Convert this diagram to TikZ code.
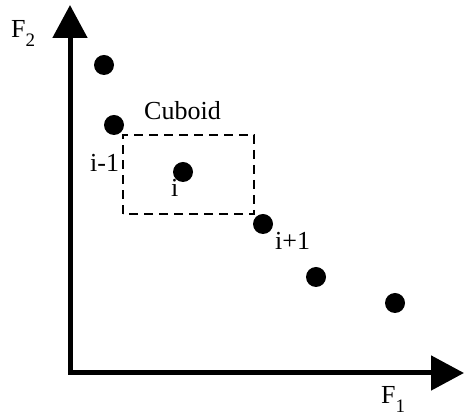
\documentclass[tikz,border=0pt]{standalone}
\usepackage{fontspec}
\setmainfont{Liberation Serif}
\usetikzlibrary{arrows.meta}
\newcommand{\axsub}[1]{\raisebox{-9pt}{\fontsize{19}{19}\selectfont #1}}
\tikzset{
  dot/.style={circle, fill=black, inner sep=0pt, minimum size=20pt},
  lbl/.style={anchor=base west, inner sep=0pt, font=\fontsize{26}{30}\selectfont},
  axis/.style={line width=5pt, line join=miter,
    {Triangle[length=33pt,width=34pt]}-{Triangle[length=33pt,width=34pt]}},
}
\begin{document}
\begin{tikzpicture}[x=1pt,y=1pt]
\useasboundingbox (0,0) rectangle (465,419);
\coordinate (O) at (70,46);
\coordinate (Ytip) at (70,414);
\coordinate (Xtip) at (464,46);
\coordinate (Cl) at (123,205);
\coordinate (Cu) at (254,284);

\draw[axis] (Ytip) -- (O) -- (Xtip);
\draw[line width=2.5pt, dash pattern=on 9pt off 6pt] (Cl) rectangle (Cu);

\node[dot] (p1) at (104,354) {};
\node[dot] (p2) at (114,294) {};
\node[dot] (p3) at (183,247) {};
\node[dot] (p4) at (263,195) {};
\node[dot] (p5) at (316,142) {};
\node[dot] (p6) at (395,116) {};

\node[lbl] (f2) at (11,381) {F\axsub{2}};
\node[lbl] (f1) at (381,15) {F\axsub{1}};
\node[lbl] (cuboid) at (144,299) {Cuboid};
\node[lbl] (lprev) at (90,247) {i-1};
\node[lbl] (lcur) at (171,222) {i};
\node[lbl] (lnext) at (275,169) {i+1};
\end{tikzpicture}
\end{document}
